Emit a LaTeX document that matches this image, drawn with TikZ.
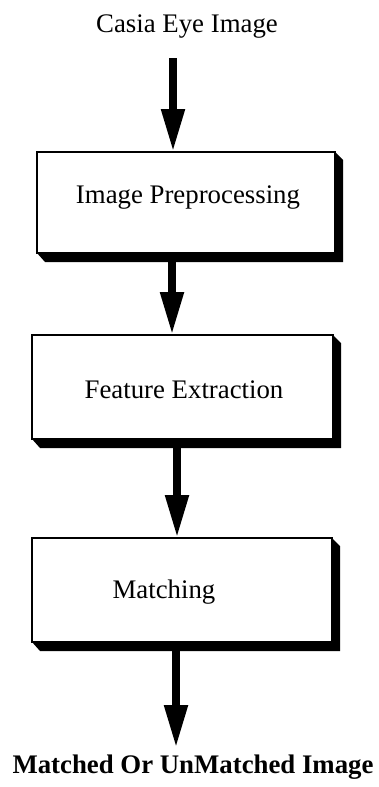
\documentclass[tikz,border=0pt]{standalone}
\usepackage{fontspec}
\setmainfont{Liberation Serif}
\usetikzlibrary{arrows.meta,calc}

% thick black drop shade on the right and bottom of a box node
\newcommand{\dropshade}[1]{%
  \fill (#1.north east) -- ++(8,8) -- ($(#1.south east)+(8,9)$)
        -- ($(#1.south west)+(8,9)$) -- (#1.south west) -- (#1.south east) -- cycle;}

\begin{document}
\begin{tikzpicture}[x=1pt,y=-1pt,
  stagebox/.style={draw=black,line width=2pt,fill=white,inner sep=0pt,outer sep=0pt},
  label text/.style={font=\fontsize{26.8}{30}\selectfont,inner sep=0pt,anchor=base},
  title text/.style={font=\fontsize{26.8}{30}\selectfont\bfseries,inner sep=0pt,anchor=base},
  flow/.style={line width=8pt,-{Triangle[width=22pt,length=43pt]}}]

\useasboundingbox (0,0) rectangle (378,787);

% input label
\node[label text] (src) at (187,32) {Casia Eye Image};

% processing stages
\node[stagebox,minimum width=298pt,minimum height=101pt] (b1) at (186,202.5) {};
\dropshade{b1}
\node[label text] (t1) at (188,203) {Image Preprocessing};

\node[stagebox,minimum width=301pt,minimum height=104pt] (b2) at (182.5,387) {};
\dropshade{b2}
\node[label text] (t2) at (184,398) {Feature Extraction};

\node[stagebox,minimum width=300pt,minimum height=104pt] (b3) at (182,590) {};
\dropshade{b3}
\node[label text] (t3) at (164,598) {Matching};

% output label
\node[title text] (out) at (193,773) {Matched Or UnMatched Image};

% flow arrows
\draw[flow] ($(src.base -| 173,0)+(0,26)$) -- (b1.north -| 173,0);
\draw[flow] ($(b1.south -| 172,0)+(0,9)$) -- (b2.north -| 172,0);
\draw[flow] ($(b2.south -| 177,0)+(0,9)$) -- (b3.north -| 177,0);
\draw[flow] ($(b3.south -| 176,0)+(0,9)$) -- ($(out.base -| 176,0)+(0,-25)$);
\end{tikzpicture}
\end{document}
